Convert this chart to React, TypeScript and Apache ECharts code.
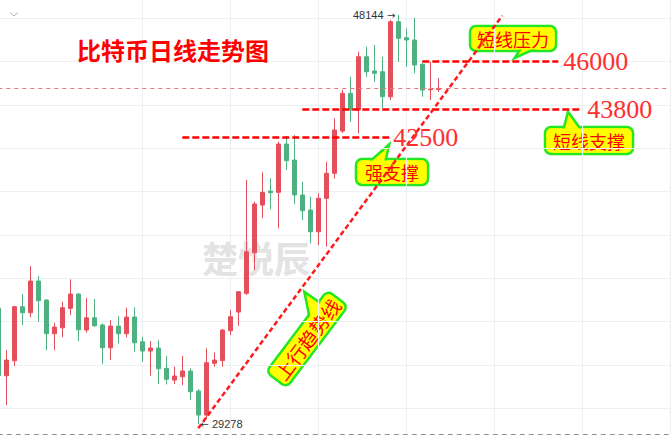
import React, { useEffect, useRef } from 'react';
import * as echarts from 'echarts';

// Daily candles (red = up, green = down)
const openPrices = [34628, 31505, 32197, 34688, 34412, 35874, 34997, 33442, 33719, 34614, 35274, 33613, 34180, 33844, 32797, 33797, 33442, 34212, 33073, 32644, 32783, 31846, 31307, 31459, 31722, 30799, 29692, 32077, 32205, 33581, 34443, 35306, 37179, 39379, 40025, 39965, 42193, 41455, 39841, 39149, 38148, 39689, 40842, 42793, 44532, 43762, 46220, 45561, 45528, 44375, 47835, 47097, 46991, 45870, 44698, 44707];
const closePrices = [31505, 32229, 34688, 34412, 35874, 34965, 33442, 33752, 34642, 35274, 33627, 34180, 33811, 32797, 33797, 33442, 34212, 33027, 32644, 32783, 31828, 31341, 31491, 31722, 30767, 29692, 32105, 32229, 33613, 34227, 35380, 37225, 39425, 39965, 39947, 42193, 41423, 39841, 39117, 38148, 39689, 40842, 42839, 44532, 43762, 46220, 45528, 45455, 44375, 47835, 47069, 46991, 45837, 44684, 44730, 44760];
const lowPrices = [31300, 30153, 31952, 33844, 34200, 33996, 32677, 32677, 33290, 34305, 33105, 33489, 33765, 32045, 32229, 32999, 33277, 32612, 32151, 31505, 31122, 31108, 31122, 31076, 30384, 29278, 29540, 31920, 31920, 33383, 33798, 35228, 36381, 38766, 39181, 38304, 40994, 39425, 38688, 37613, 37534, 37456, 40600, 42701, 43222, 42687, 45298, 45067, 43840, 44223, 45990, 45759, 45455, 44375, 44223, 44592];
const highPrices = [34750, 32690, 34734, 35274, 36565, 36104, 35029, 33950, 34919, 35952, 35320, 35103, 35043, 33922, 34075, 34259, 34642, 34661, 33304, 33106, 33144, 32413, 31920, 32413, 31846, 30892, 32769, 32584, 33660, 34536, 35412, 40532, 39532, 40888, 40611, 42300, 42562, 42609, 40454, 39762, 39919, 41377, 43379, 44684, 45298, 46451, 46682, 46760, 46220, 47913, 48144, 47530, 48019, 45930, 45990, 45238];

const totalSlots = 85;
const categories = Array.from({ length: totalSlots }, (_, i) => `D${i + 1}`);

// Annotation levels
const resistanceLevel = 46000;
const shortSupportLevel = 43800;
const strongSupportLevel = 42500;
const resistanceSpan = [53, 70];
const shortSupportSpan = [38, 73];
const strongSupportSpan = [23, 49];
const trendStart = [25, 29080];
const trendEnd = [63, 48116];

const titleText = '比特币日线走势图';
const watermarkText = '楚悦辰';

const RED = '#e44f5c';
const GREEN = '#4db27f';
const CALLOUT_FILL = '#ffff00';
const CALLOUT_STROKE = '#22e822';

function callout(cx: number, cy: number, w: number, h: number, text: string, tail: number[][], rotation = 0, fontSize = 18) {
  return {
    type: 'group',
    x: cx,
    y: cy,
    rotation,
    z: 1,
    children: [
      {
        type: 'rect',
        shape: { x: -w / 2, y: -h / 2, width: w, height: h, r: 6 },
        style: { fill: CALLOUT_FILL, stroke: CALLOUT_STROKE, lineWidth: 2.5 },
      },
      {
        type: 'polygon',
        shape: { points: tail },
        style: { fill: CALLOUT_FILL, stroke: CALLOUT_STROKE, lineWidth: 2.5 },
      },
      {
        type: 'rect',
        shape: { x: -w / 2 + 1.6, y: -h / 2 + 1.6, width: w - 3.2, height: h - 3.2, r: 5 },
        style: { fill: CALLOUT_FILL },
      },
      {
        type: 'text',
        style: {
          text,
          x: 0,
          y: 0,
          align: 'center',
          verticalAlign: 'middle',
          fill: '#ff0000',
          font: `${fontSize}px "Noto Sans CJK SC"`,
        },
      },
    ],
  };
}

export default function App() {
  const ref = useRef<HTMLDivElement>(null);
  useEffect(() => {
    if (!ref.current) return;
    const chart = echarts.init(ref.current, null, { renderer: 'svg' });
    const candleData = categories.map((_, i) =>
      i < openPrices.length ? [openPrices[i], closePrices[i], lowPrices[i], highPrices[i]] : '-'
    );
    const lastPrice = closePrices[closePrices.length - 1];
    const levelLabel = (distance: number) => ({
      show: true,
      position: 'end',
      distance,
      color: '#ff2e2e',
      fontFamily: '"Liberation Serif", serif',
      fontSize: 26,
    });
    const levelStyle = { color: '#ff0000', width: 2.5, type: [7, 3] };
    const extremeRich = {
      v: { color: '#333333', fontFamily: '"Liberation Sans", Arial, sans-serif', fontSize: 11 },
      a: { color: '#333333', fontFamily: '"DejaVu Sans", sans-serif', fontSize: 10 },
    };

    chart.setOption({
      animation: false,
      backgroundColor: '#ffffff',
      grid: { left: -1.7, right: 0.7, top: 0.8, bottom: 3.6, outerBoundsMode: 'none' },
      xAxis: {
        type: 'category',
        data: categories,
        boundaryGap: false,
        axisLabel: { show: false },
        axisTick: { show: false },
        axisLine: { show: true, lineStyle: { color: '#8593a0', width: 1.2, type: [4, 5] } },
        splitLine: {
          show: true,
          interval: (idx: number) => idx >= 18 && (idx - 18) % 11 === 0,
          lineStyle: { color: '#edf1f4', width: 1.2 },
        },
      },
      yAxis: {
        type: 'value',
        min: 28800,
        max: 48800,
        splitNumber: 10,
        scale: true,
        axisLabel: { show: false },
        axisTick: { show: false },
        axisLine: { show: false },
        splitLine: { show: true, showMinLine: false, showMaxLine: false, lineStyle: { color: '#edf1f4', width: 1.2 } },
      },
      graphic: [
        {
          type: 'polyline',
          shape: { points: [[10, 12.5], [14, 16], [18, 12.5]] },
          style: { stroke: '#a9b5c2', lineWidth: 1, fill: 'none' },
        },
        {
          type: 'text',
          z: 1,
          style: {
            text: watermarkText,
            x: 256,
            y: 257,
            align: 'center',
            verticalAlign: 'middle',
            fill: '#e3e3e3',
            font: 'bold 36px "Noto Sans CJK SC"',
          },
        },
        {
          type: 'text',
          z: 3,
          style: {
            text: titleText,
            x: 173,
            y: 49,
            align: 'center',
            verticalAlign: 'middle',
            fill: '#ff0000',
            font: 'bold 24px "Noto Sans CJK SC"',
          },
        },
        callout(513, 38.5, 86, 25, '短线压力', [[9, 8.5], [1.5, 19.5], [26, 8.5]]),
        callout(589, 140.5, 88, 27, '短线支撑', [[-26, -9.5], [-21, -28.8], [-7, -9.5]]),
        callout(392, 172, 72, 26, '强支撑', [[-24, -9], [-2.7, -27.7], [-7, -9]]),
        callout(307, 339, 102, 26, '上行趋势线', [[17, -9], [36, -30.5], [37, -9]], (53 * Math.PI) / 180, 19),
      ],
      series: [
        {
          type: 'candlestick',
          data: candleData,
          barWidth: 4,
          itemStyle: {
            color: RED,
            color0: GREEN,
            borderColor: RED,
            borderColor0: GREEN,
            borderWidth: 1,
          },
          markPoint: {
            symbol: 'circle',
            symbolSize: 0,
            data: [
              {
                type: 'max',
                valueDim: 'highest',
                label: {
                  show: true,
                  position: 'left',
                  distance: 3,
                  formatter: (p: any) => `{v|${p.value}} {a|→}`,
                  rich: extremeRich,
                },
              },
              {
                type: 'min',
                valueDim: 'lowest',
                label: {
                  show: true,
                  position: 'right',
                  distance: 2,
                  formatter: (p: any) => `{a|←} {v|${p.value}}`,
                  rich: extremeRich,
                },
              },
            ],
          },
          markLine: {
            symbol: ['none', 'none'],
            silent: true,
            data: [
              {
                yAxis: lastPrice,
                lineStyle: { color: '#e9737f', width: 1, type: [4, 4] },
                label: { show: false },
              },
              [
                { coord: [resistanceSpan[0], resistanceLevel], lineStyle: levelStyle, label: { ...levelLabel(5), formatter: `${resistanceLevel}` } },
                { coord: [resistanceSpan[1], resistanceLevel] },
              ],
              [
                { coord: [shortSupportSpan[0], shortSupportLevel], lineStyle: levelStyle, label: { ...levelLabel(5), formatter: `${shortSupportLevel}` } },
                { coord: [shortSupportSpan[1], shortSupportLevel] },
              ],
              [
                { coord: [strongSupportSpan[0], strongSupportLevel], lineStyle: levelStyle, label: { ...levelLabel(3), formatter: `${strongSupportLevel}` } },
                { coord: [strongSupportSpan[1], strongSupportLevel] },
              ],
              [
                { coord: trendStart, lineStyle: { color: '#ff1a1a', width: 2.5, type: [5, 3] }, label: { show: false } },
                { coord: trendEnd },
              ],
            ],
          },
        },
      ],
    });
    return () => chart.dispose();
  }, []);
  return (
    <div
      ref={ref}
      style={{ position: 'fixed', left: 0, top: 0, width: 671, height: 438, background: '#ffffff' }}
    />
  );
}
